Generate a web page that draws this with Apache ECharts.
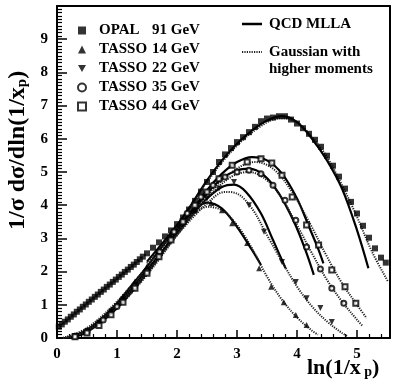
<!DOCTYPE html>
<html><head><meta charset="utf-8">
<script src="https://cdn.jsdelivr.net/npm/echarts@6/dist/echarts.min.js"></script>
<style>html,body{margin:0;padding:0;background:#fff}#c{width:393px;height:383px}</style>
</head><body><div id="c"></div>
<script>
// ---- tick labels ----
const xTickLabels = [0, 1, 2, 3, 4, 5];
const yTickLabels = [0, 1, 2, 3, 4, 5, 6, 7, 8, 9];

// ---- data points [ln(1/xp), 1/sigma dsigma/dln(1/xp)] ----
const opal91 = [[0.03,0.34],[0.08,0.41],[0.13,0.49],[0.18,0.56],[0.23,0.64],[0.28,0.71],[0.33,0.79],[0.38,0.86],[0.43,0.94],[0.48,1.01],[0.53,1.09],[0.58,1.16],[0.63,1.24],[0.68,1.31],[0.73,1.39],[0.78,1.46],[0.83,1.54],[0.88,1.61],[0.93,1.69],[0.98,1.76],[1.03,1.84],[1.08,1.91],[1.13,1.99],[1.18,2.06],[1.23,2.14],[1.28,2.21],[1.33,2.29],[1.38,2.37],[1.43,2.45],[1.5,2.55],[1.6,2.72],[1.7,2.88],[1.8,3.06],[1.9,3.24],[2.0,3.43],[2.1,3.63],[2.2,3.87],[2.3,4.13],[2.4,4.41],[2.5,4.7],[2.6,5.0],[2.7,5.3],[2.8,5.53],[2.9,5.72],[3.0,5.9],[3.1,6.05],[3.2,6.2],[3.3,6.36],[3.4,6.53],[3.5,6.61],[3.6,6.64],[3.7,6.68],[3.8,6.68],[3.9,6.58],[4.0,6.46],[4.1,6.32],[4.2,6.15],[4.3,5.97],[4.4,5.76],[4.5,5.49],[4.6,5.19],[4.7,4.86],[4.8,4.5],[4.9,4.1],[5.0,3.75],[5.1,3.38],[5.2,3.02],[5.3,2.7],[5.4,2.42],[5.48,2.27]];
const tasso14 = [[0.3,0.08],[0.5,0.25],[0.7,0.5],[0.9,0.85],[1.1,1.25],[1.3,1.7],[1.5,2.15],[1.7,2.62],[1.9,3.08],[2.1,3.5],[2.3,3.85],[2.57,4.07],[2.75,3.85],[2.92,3.46],[3.17,2.86],[3.37,2.1],[3.57,1.54],[3.78,1.08],[3.98,0.69],[4.16,0.39]];
const tasso22 = [[0.3,0.06],[0.5,0.2],[0.7,0.45],[0.9,0.78],[1.1,1.15],[1.3,1.58],[1.5,2.02],[1.7,2.5],[1.9,2.97],[2.1,3.42],[2.3,3.85],[2.5,4.2],[2.7,4.5],[2.95,4.7],[3.2,4.0],[3.45,3.2],[3.75,2.29],[3.98,1.69],[4.16,1.2],[4.39,0.9],[4.58,0.48]];
const tasso35 = [[0.3,0.05],[0.5,0.18],[0.77,0.54],[1.0,0.95],[1.29,1.54],[1.5,2.0],[1.71,2.6],[1.95,3.2],[2.17,3.76],[2.4,4.25],[2.6,4.6],[2.8,4.85],[3.0,5.0],[3.2,5.05],[3.4,4.95],[3.6,4.6],[3.8,4.15],[3.98,3.55],[4.16,2.74],[4.39,2.08],[4.58,1.5],[4.78,1.05]];
const tasso44 = [[0.3,0.04],[0.5,0.15],[0.7,0.38],[0.9,0.7],[1.1,1.08],[1.3,1.5],[1.5,1.95],[1.7,2.45],[1.9,2.95],[2.1,3.5],[2.3,4.0],[2.5,4.4],[2.7,4.8],[2.92,5.2],[3.17,5.3],[3.4,5.4],[3.58,5.27],[3.75,4.9],[3.92,4.25],[4.16,3.4],[4.36,2.8],[4.58,2.05],[4.8,1.54],[4.98,1.05]];

// ---- QCD MLLA curves (solid) ----
const mlla14 = [[0.2,0],[0.5,0.25],[0.75,0.6],[1.0,1.05],[1.25,1.6],[1.5,2.15],[1.75,2.75],[2.0,3.3],[2.25,3.8],[2.5,4.08],[2.75,3.9],[3.0,3.35],[3.25,2.65],[3.4,2.2]];
const mlla22 = [[0.2,0],[0.5,0.22],[1.0,1.0],[1.5,2.05],[2.0,3.15],[2.25,3.7],[2.5,4.2],[2.75,4.55],[2.95,4.62],[3.15,4.4],[3.4,3.75],[3.6,2.95],[3.81,2.1]];
const mlla35 = [[0.2,0],[0.5,0.2],[1.0,0.95],[1.5,2.0],[2.0,3.2],[2.5,4.35],[2.75,4.8],[3.0,5.05],[3.2,5.1],[3.45,4.9],[3.7,4.35],[3.95,3.5],[4.15,2.6],[4.28,1.9]];
const mlla44 = [[0.2,0],[0.5,0.18],[1.0,0.9],[1.5,1.95],[2.0,3.2],[2.5,4.45],[2.75,4.95],[3.0,5.3],[3.25,5.45],[3.5,5.35],[3.75,4.95],[4.0,4.2],[4.2,3.35],[4.35,2.7],[4.44,2.25]];
const mlla91 = [[1.5,2.3],[2.0,3.4],[2.25,4.05],[2.5,4.75],[2.75,5.35],[3.0,5.85],[3.25,6.25],[3.5,6.55],[3.75,6.68],[4.0,6.5],[4.25,6.0],[4.5,5.35],[4.75,4.5],[5.0,3.25],[5.19,2.1]];

// ---- Gaussian with higher moments (dotted) ----
const gaus14 = [[0.1,0],[0.5,0.3],[1.0,1.1],[1.5,2.15],[2.0,3.25],[2.25,3.7],[2.5,3.95],[2.75,3.85],[3.0,3.4],[3.25,2.7],[3.5,1.85],[3.75,1.15],[4.0,0.62],[4.25,0.22],[4.35,0.1]];
const gaus22 = [[0.1,0],[0.5,0.25],[1.0,1.0],[1.5,2.0],[2.0,3.1],[2.5,4.05],[2.8,4.4],[3.0,4.35],[3.25,3.9],[3.5,3.1],[3.75,2.3],[4.0,1.55],[4.25,0.95],[4.5,0.5],[4.75,0.15],[4.85,0.05]];
const gaus35 = [[0.1,0],[0.5,0.22],[1.0,0.95],[1.5,1.95],[2.0,3.1],[2.5,4.2],[2.9,4.85],[3.2,5.0],[3.5,4.75],[3.75,4.2],[4.0,3.4],[4.25,2.55],[4.5,1.75],[4.75,1.1],[5.0,0.55],[5.1,0.35]];
const gaus44 = [[0.1,0],[0.5,0.2],[1.0,0.9],[1.5,1.9],[2.0,3.1],[2.5,4.3],[3.0,5.1],[3.3,5.3],[3.6,5.1],[3.9,4.45],[4.2,3.5],[4.5,2.45],[4.75,1.65],[5.0,1.0],[5.16,0.6]];
const gaus91 = [[1.5,2.25],[2.0,3.35],[2.5,4.7],[3.0,5.8],[3.5,6.5],[3.75,6.62],[4.0,6.5],[4.25,6.05],[4.5,5.45],[4.75,4.6],[5.0,3.65],[5.25,2.6],[5.52,1.69]];

const FONT = 'Liberation Serif';
const downTri = 'path://M0,0 L10,0 L5,9 Z';
const DOT = [1.2, 1.2];

function scatter(name, data, symbol, size) {
  return { type: 'scatter', name, data, symbol, symbolSize: size, z: 5,
    itemStyle: { color: '#000', borderColor: '#000', borderWidth: symbol.startsWith('empty') ? 1.3 : 0 } };
}
function curve(name, data, dotted) {
  return { type: 'line', name, data, smooth: 0.35, symbol: 'none', showSymbol: false, z: 3,
    itemStyle: { color: '#000' },
    lineStyle: { color: dotted ? '#222' : '#000', width: dotted ? 2 : 2.2, type: dotted ? DOT : 'solid' } };
}

const chart = echarts.init(document.getElementById('c'), null, { renderer: 'canvas' });
const axisTxt = { fontFamily: FONT, fontWeight: 'bold', fontSize: 15, color: '#000' };
const legTxt = 'bold 15px "Liberation Serif"';
chart.setOption({
  animation: false,
  backgroundColor: '#fff',
  grid: { left: 57, right: 1, top: 6, bottom: 45 },
  xAxis: [{
    type: 'value', min: 0, max: 5.55, interval: 1, position: 'bottom',
    axisLine: { lineStyle: { color: '#000', width: 2 } },
    axisTick: { inside: true, length: 8, lineStyle: { color: '#000', width: 1.5 } },
    minorTick: { show: true, splitNumber: 5, length: 4, lineStyle: { color: '#000', width: 1.2 } },
    splitLine: { show: false },
    axisLabel: Object.assign({ margin: 9, formatter: v => xTickLabels.includes(v) ? String(v) : '' }, axisTxt)
  }, {
    type: 'value', min: 0, max: 5.55, position: 'top',
    axisLine: { show: true, onZero: false, lineStyle: { color: '#000', width: 2 } },
    axisTick: { show: false }, axisLabel: { show: false }, splitLine: { show: false }
  }],
  yAxis: [{
    type: 'value', min: 0, max: 10, interval: 1, position: 'left',
    axisLine: { show: true, lineStyle: { color: '#000', width: 2 } },
    axisTick: { inside: true, length: 10, lineStyle: { color: '#000', width: 1.5 } },
    minorTick: { show: true, splitNumber: 10, length: 5, lineStyle: { color: '#000', width: 1.2 } },
    splitLine: { show: false },
    axisLabel: Object.assign({ margin: 9, formatter: v => yTickLabels.includes(v) ? String(v) : '' }, axisTxt)
  }, {
    type: 'value', min: 0, max: 10, position: 'right',
    axisLine: { show: true, onZero: false, lineStyle: { color: '#000', width: 2 } },
    axisTick: { show: false }, axisLabel: { show: false }, splitLine: { show: false }
  }],
  legend: [{
    data: ['OPAL 91 GeV', 'TASSO 14 GeV', 'TASSO 22 GeV', 'TASSO 35 GeV', 'TASSO 44 GeV'],
    orient: 'vertical', left: 72, top: 18, itemWidth: 8, itemHeight: 8, itemGap: 4,
    selectedMode: false,
    formatter: n => { const i = n.indexOf(' '); return '{a|' + n.slice(0, i) + '}{b|' + n.slice(i + 1) + '}'; },
    textStyle: { padding: [0, 0, 0, 8], rich: {
      a: { fontFamily: FONT, fontWeight: 'bold', fontSize: 15, color: '#000', width: 53 },
      b: { fontFamily: FONT, fontWeight: 'bold', fontSize: 15, color: '#000' } } }
  }],
  graphic: [
    { type: 'line', shape: { x1: 242, y1: 24, x2: 262, y2: 24 }, style: { stroke: '#000', lineWidth: 2.5 } },
    { type: 'text', x: 269, y: 24, style: { text: 'QCD MLLA', font: legTxt, fill: '#000', verticalAlign: 'middle' } },
    { type: 'line', shape: { x1: 242, y1: 52, x2: 262, y2: 52 }, style: { stroke: '#222', lineWidth: 2, lineDash: DOT } },
    { type: 'text', x: 269, y: 52, style: { text: 'Gaussian with', font: legTxt, fill: '#000', verticalAlign: 'middle' } },
    { type: 'text', x: 269, y: 69, style: { text: 'higher moments', font: legTxt, fill: '#000', verticalAlign: 'middle' } },
    { type: 'text', left: 307, top: 357, style: { text: '{a|ln(1/x}{b| p}{a|)}', rich: {
        a: { font: 'bold 22px "Liberation Serif"', fill: '#000' },
        b: { font: 'bold 14px "Liberation Serif"', fill: '#000', padding: [9, 0, 0, 0] } } } },
    { type: 'text', x: 6, y: 230, rotation: Math.PI / 2, style: { text: '{a|1/σ dσ/dln(1/x}{b|p}{a|)}', rich: {
        a: { font: 'bold 24px "Liberation Serif"', fill: '#000' },
        b: { font: 'bold 15px "Liberation Serif"', fill: '#000', padding: [9, 0, 0, 0] } } } }
  ],
  series: [
    curve('QCD MLLA', mlla14, false), curve('QCD MLLA', mlla22, false), curve('QCD MLLA', mlla35, false),
    curve('QCD MLLA', mlla44, false), curve('QCD MLLA', mlla91, false),
    curve('Gaussian with higher moments', gaus14, true), curve('Gaussian with higher moments', gaus22, true),
    curve('Gaussian with higher moments', gaus35, true), curve('Gaussian with higher moments', gaus44, true),
    curve('Gaussian with higher moments', gaus91, true),
    scatter('OPAL 91 GeV', opal91, 'rect', 6),
    scatter('TASSO 14 GeV', tasso14, 'triangle', 6),
    scatter('TASSO 22 GeV', tasso22, downTri, 6),
    scatter('TASSO 35 GeV', tasso35, 'emptyCircle', 5),
    scatter('TASSO 44 GeV', tasso44, 'emptyRect', 5)
  ]
});
</script></body></html>
